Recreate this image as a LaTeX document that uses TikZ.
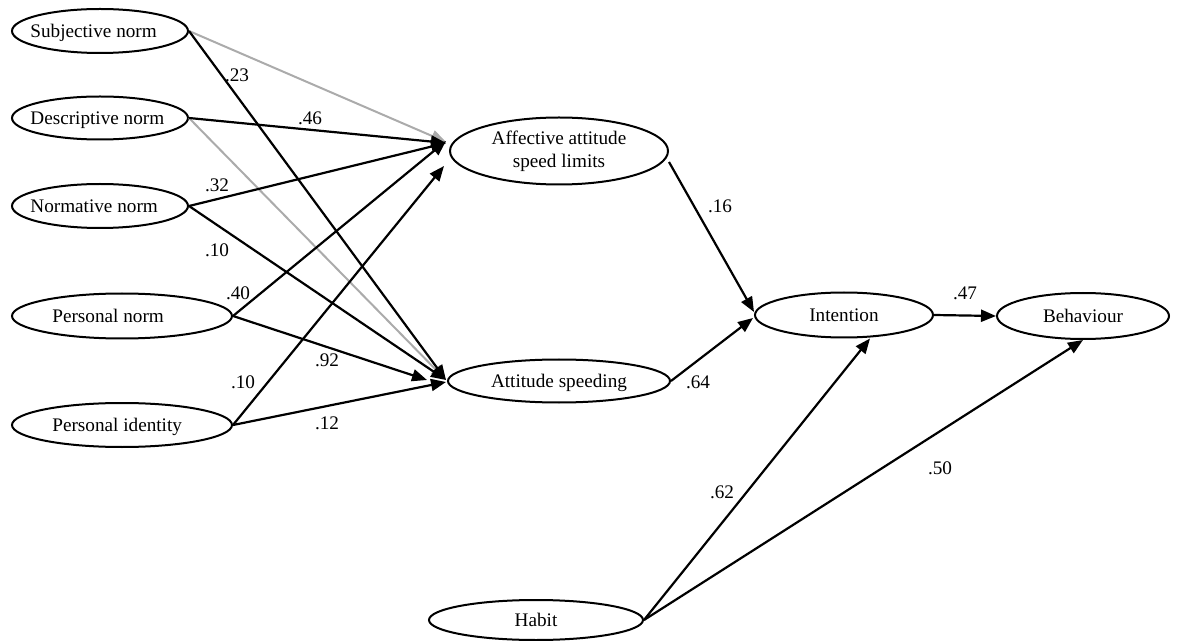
\documentclass[tikz,border=0pt]{standalone}
\usepackage{fontspec}
\setmainfont{Liberation Serif}
\usetikzlibrary{arrows.meta,calc,shapes.geometric}
\begin{document}
\begin{tikzpicture}[x=0.5pt,y=-0.5pt,
  font=\fontsize{9.6pt}{11.5pt}\selectfont,
  lat/.style={draw=black, ellipse, line width=1pt, inner sep=0pt, align=center},
  oneline/.style={text height=6.4pt, text depth=0pt},
  vname/.style={anchor=west, inner sep=0pt, text height=6.4pt, text depth=0pt},
  effect/.style={line width=1.1pt, draw=black, -{Triangle[length=7.5pt,width=6pt]}},
  weak/.style={line width=1pt, draw=black!33, -{Triangle[length=7.5pt,width=6pt]}},
  coef/.style={inner sep=0pt, text height=6.4pt, text depth=0pt}]
\useasboundingbox (0,0) rectangle (1182,641);

% exogenous norm and identity variables
\node[lat, minimum width=88pt, minimum height=22pt]   (sub) at (100,31)  {};
\node[vname] (sub-t) at (30,31)  {Subjective norm};
\node[lat, minimum width=88pt, minimum height=21.5pt] (des) at (100,118) {};
\node[vname] (des-t) at (30,118) {Descriptive norm};
\node[lat, minimum width=88pt, minimum height=22pt]   (nor) at (100,206) {};
\node[vname] (nor-t) at (30,206) {Normative norm};
\node[lat, minimum width=110pt, minimum height=22.5pt] (pn) at (122,316) {};
\node[vname] (pn-t) at (52,316) {Personal norm};
\node[lat, minimum width=110pt, minimum height=22pt]  (pid) at (122,425) {};
\node[vname] (pid-t) at (52,425) {Personal identity};

% attitudes, intention, behaviour, habit
\node[lat, minimum width=109pt, minimum height=33.5pt] (aff) at (559,151) {Affective attitude\\speed limits};
\node[lat, oneline, minimum width=111pt, minimum height=21.5pt] (att) at (559,381) {Attitude speeding};
\node[lat, oneline, minimum width=89pt, minimum height=22.5pt] (int) at (844,315) {Intention};
\node[lat, oneline, minimum width=86pt, minimum height=23pt] (beh) at (1083,316) {Behaviour};
\node[lat, oneline, minimum width=107pt, minimum height=20pt] (hab) at (536,620) {Habit};

% non-significant paths
\draw[weak] (sub.east) -- ($(aff.west)+(-3,-9)$);
\draw[weak] (des.east) -- ($(att.west)+(-1,-1)$);

% significant paths
\draw[effect] (sub.east) -- ($(att.west)+(-1,-1)$);
\draw[effect] (des.east) -- ($(aff.west)+(-3,-8)$);
\draw[effect] (nor.east) -- ($(aff.west)+(-3,-8)$);
\draw[effect] (nor.east) -- ($(att.west)+(-1,-1)$);
\draw[effect] (pn.east)  -- ($(aff.west)+(-3,-10)$);
\draw[effect] (pn.east)  -- ($(att.west)+(-20,-1)$);
\draw[effect] (pid.east) -- ($(aff.west)+(-5,15)$);
\draw[effect] (pid.east) -- ($(att.west)+(-1,1)$);
\draw[effect] ($(aff.east)+(0,11)$) -- ($(int.west)+(0,-3)$);
\draw[effect] (att.east) -- ($(int.west)+(-1,3)$);
\draw[effect] (int.east) -- (beh.west);
\draw[effect] (hab.east) -- ($(int.south)+(26,0)$);
\draw[effect] (hab.east) -- (beh.south);

% path coefficients
\node[coef] (c-sub-att) at (237,75)  {.23};
\node[coef] (c-des-aff) at (310,118) {.46};
\node[coef] (c-nor-aff) at (217,185) {.32};
\node[coef] (c-nor-att) at (217,250) {.10};
\node[coef] (c-pn-aff)  at (238,293) {.40};
\node[coef] (c-pn-att)  at (327,360) {.92};
\node[coef] (c-pid-aff) at (243,382) {.10};
\node[coef] (c-pid-att) at (327,423) {.12};
\node[coef] (c-aff-int) at (720,206) {.16};
\node[coef] (c-att-int) at (698,382) {.64};
\node[coef] (c-int-beh) at (965,293) {.47};
\node[coef] (c-hab-int) at (722,492) {.62};
\node[coef] (c-hab-beh) at (940,468) {.50};
\end{tikzpicture}
\end{document}
